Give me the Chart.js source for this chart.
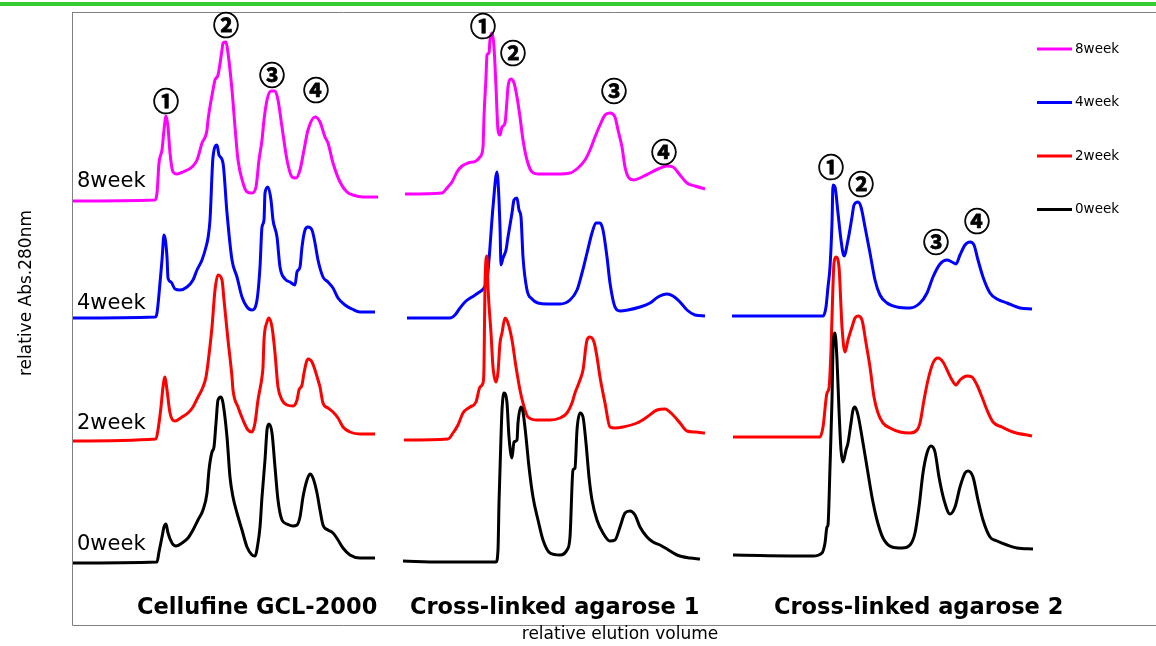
<!DOCTYPE html>
<html>
<head>
<meta charset="utf-8">
<script src="https://cdn.jsdelivr.net/npm/chart.js@4/dist/chart.umd.min.js"></script>
<style>
  html, body { margin: 0; padding: 0; background: #fff; }
  #wrap { width: 1156px; height: 646px; }
</style>
</head>
<body>
<div id="wrap"><canvas id="chart" width="1156" height="646"></canvas></div>
<script>
// elution profiles: [relative elution volume, relative Abs.280nm]
// Cellufine GCL-2000
const gcl8 = [[1,424],[83,425],[85,432],[87,462],[90,475],[92,495],[94,509],[96,498],[98,472],[101,453],[105,451],[111,453],[120,458],[125,465],[130,482],[135,495],[136,505],[141,535],[143,545],[146,550],[150,575],[151,582],[154,583],[156,572],[160,535],[163,498],[166,465],[171,442],[175,433],[180,432],[184,438],[187,465],[190,485],[192,505],[195,525],[199,534],[203,534],[206,525],[210,498],[215,465],[220,448],[224,447],[228,455],[232,475],[236,495],[243,508],[248,503],[253,488],[256,482],[261,462],[268,443],[275,433],[281,430],[291,428],[306,428]];
const gcl4 = [[1,307],[83,308],[85,312],[88,342],[90,365],[92,390],[95,368],[96,347],[99,343],[103,336],[108,335],[115,338],[121,345],[125,355],[130,365],[134,378],[136,387],[138,405],[141,468],[145,480],[147,470],[151,462],[155,412],[160,365],[165,348],[170,328],[175,318],[180,315],[185,325],[188,358],[190,398],[192,405],[193,432],[196,438],[199,425],[201,405],[205,388],[208,358],[213,346],[218,343],[223,340],[225,353],[228,358],[230,378],[233,395],[236,398],[240,395],[243,382],[246,365],[251,348],[256,343],[261,337],[266,327],[273,320],[280,316],[288,313],[303,313]];
const gcl2 = [[1,184],[84,186],[86,195],[89,218],[91,238],[93,248],[95,235],[98,212],[103,204],[110,208],[116,212],[121,218],[126,228],[131,238],[134,248],[136,262],[140,298],[143,335],[146,350],[150,345],[152,325],[156,285],[160,248],[161,235],[166,218],[171,205],[176,195],[180,193],[183,202],[186,225],[190,248],[191,258],[192,285],[195,303],[197,307],[200,298],[203,272],[205,248],[206,238],[210,225],[215,220],[221,219],[225,225],[227,235],[230,240],[232,252],[236,266],[240,263],[243,255],[246,245],[248,238],[251,222],[256,217],[261,213],[266,207],[271,198],[278,193],[288,191],[303,191]];
const gcl0 = [[1,62],[85,63],[87,73],[90,88],[92,98],[94,101],[96,92],[100,82],[104,79],[110,82],[116,87],[121,95],[126,105],[131,115],[135,132],[137,155],[140,173],[142,178],[144,202],[146,225],[149,228],[151,222],[155,188],[158,148],[161,128],[165,112],[170,95],[175,78],[180,70],[183,69],[186,82],[188,98],[190,128],[193,165],[195,195],[197,201],[200,192],[203,158],[206,125],[210,105],[215,101],[221,99],[225,100],[228,108],[231,128],[235,145],[238,151],[241,147],[245,132],[248,115],[251,100],[256,95],[261,92],[266,85],[271,77],[278,70],[288,67],[303,67]];

// Cross-linked agarose 1
const agr1w8 = [[333,431],[370,432],[375,437],[380,443],[385,453],[390,459],[396,462],[404,464],[408,468],[411,478],[412,508],[414,548],[415,570],[417,572],[418,585],[420,592],[422,578],[424,538],[426,495],[428,490],[430,498],[433,502],[435,525],[436,538],[439,546],[442,542],[445,528],[448,508],[451,485],[455,465],[460,453],[466,451],[485,451],[498,452],[506,457],[513,465],[518,475],[523,488],[528,500],[533,510],[538,512],[543,508],[546,495],[550,478],[553,458],[557,447],[562,445],[570,448],[578,452],[586,456],[595,459],[601,458],[608,450],[615,442],[623,439],[633,436]];
const agr1w4 = [[335,307],[378,307],[383,310],[388,317],[393,323],[400,328],[406,332],[412,337],[415,345],[417,365],[419,392],[421,418],[425,453],[427,425],[428,398],[429,360],[431,367],[434,375],[436,388],[440,412],[442,425],[445,427],[447,415],[449,408],[451,368],[455,335],[460,326],[466,322],[475,321],[488,321],[498,325],[505,335],[510,352],[515,372],[520,392],[524,402],[528,402],[531,395],[535,368],[538,342],[543,318],[548,314],[556,315],[568,318],[578,322],[586,328],[595,331],[601,329],[608,323],[615,315],[623,310],[633,309]];
const agr1w2 = [[332,185],[376,186],[381,192],[386,200],[391,212],[398,218],[404,223],[408,238],[411,242],[412,258],[413,342],[415,369],[416,338],[419,292],[421,258],[424,243],[426,253],[428,282],[430,292],[433,307],[436,302],[440,285],[444,258],[445,252],[448,235],[451,222],[456,208],[465,205],[478,205],[488,207],[495,212],[500,222],[503,232],[508,245],[511,255],[515,285],[518,288],[522,283],[525,268],[528,248],[533,222],[538,198],[543,197],[551,198],[565,202],[575,208],[585,215],[593,216],[601,210],[608,202],[615,194],[623,193],[633,192]];
const agr1w0 = [[331,64],[368,63],[401,63],[424,63],[426,75],[427,122],[429,188],[430,215],[432,232],[435,222],[437,188],[440,167],[442,183],[445,185],[446,202],[449,218],[451,213],[454,188],[457,158],[461,128],[466,105],[471,85],[478,72],[488,70],[495,75],[498,88],[501,155],[503,157],[505,195],[508,212],[511,208],[514,182],[517,148],[520,125],[525,105],[531,92],[538,84],[543,85],[548,98],[553,112],[558,114],[563,110],[568,98],[575,88],[581,83],[588,80],[595,76],[605,70],[618,67],[628,66]];

// Cross-linked agarose 2
const agr2w4 = [[660,309],[751,309],[754,318],[756,338],[758,358],[760,402],[761,440],[763,438],[766,412],[769,385],[772,369],[776,385],[780,408],[782,420],[786,423],[789,418],[793,398],[798,372],[803,345],[808,330],[815,322],[825,318],[838,317],[848,322],[855,332],[861,348],[868,361],[875,365],[880,363],[884,361],[888,370],[893,380],[898,383],[902,380],[906,365],[911,348],[918,332],[925,326],[935,322],[948,317],[960,316]];
const agr2w2 = [[661,188],[748,188],[751,198],[755,232],[757,237],[759,275],[760,308],[762,362],[764,368],[767,358],[769,318],[770,298],[773,273],[776,285],[780,298],[783,307],[786,309],[790,305],[794,282],[798,258],[802,228],[806,212],[811,202],[818,197],[828,193],[838,192],[845,195],[848,202],[852,225],[856,245],[861,262],[866,267],[871,263],[876,253],[880,245],[884,240],[888,245],[895,249],[900,248],[905,240],[910,228],[915,215],[921,203],[930,198],[941,193],[960,189]];
const agr2w0 = [[661,70],[741,69],[750,72],[753,82],[755,98],[756,100],[758,158],[760,225],[761,275],[763,292],[765,265],[767,215],[769,175],[771,163],[774,175],[776,182],[779,202],[781,215],[783,218],[786,210],[790,188],[795,158],[800,128],[805,105],[811,87],[820,78],[830,77],[838,80],[843,92],[847,118],[851,152],[855,172],[859,179],[863,173],[867,148],[872,125],[878,111],[883,118],[888,138],[893,152],[896,154],[901,148],[906,125],[911,105],[918,88],[925,84],[935,80],[945,77],[961,76]];

const weeks = ["8week", "4week", "2week", "0week"];
const weekColors = ["#ff00ff", "#0000ff", "#ff0000", "#000000"];
const columns = ["Cellufine GCL-2000", "Cross-linked agarose 1", "Cross-linked agarose 2"];
const circled = ["①", "②", "③", "④"];

const series = [
  { week: 0, data: gcl8 }, { week: 1, data: gcl4 }, { week: 2, data: gcl2 }, { week: 3, data: gcl0 },
  { week: 0, data: agr1w8 }, { week: 1, data: agr1w4 }, { week: 2, data: agr1w2 }, { week: 3, data: agr1w0 },
  { week: 1, data: agr2w4 }, { week: 2, data: agr2w2 }, { week: 3, data: agr2w0 },
];

// peak numbers: [column, peak, x, y] in data units
const peakMarks = [
  [0, 0, 94, 524], [0, 1, 154, 600], [0, 2, 200, 550], [0, 3, 244, 535],
  [1, 0, 411, 599], [1, 1, 441, 572], [1, 2, 542, 534], [1, 3, 592, 473],
  [2, 0, 759, 458], [2, 1, 789, 441], [2, 2, 864, 383], [2, 3, 905, 404],
];

const overlay = {
  id: "overlay",
  beforeDraw(chart) {
    const ctx = chart.ctx;
    const a = chart.chartArea;
    ctx.save();
    ctx.fillStyle = "#33cc33";
    ctx.fillRect(0, 2, chart.width, 4);
    ctx.strokeStyle = "#808080";
    ctx.lineWidth = 1;
    ctx.beginPath();
    ctx.moveTo(a.left + 0.5, a.top + 0.5);
    ctx.lineTo(a.right, a.top + 0.5);
    ctx.moveTo(a.left + 0.5, a.top);
    ctx.lineTo(a.left + 0.5, a.bottom + 0.5);
    ctx.lineTo(a.right, a.bottom + 0.5);
    ctx.stroke();
    ctx.restore();
  },
  afterDraw(chart) {
    const ctx = chart.ctx;
    const a = chart.chartArea;
    const xs = chart.scales.x;
    const ys = chart.scales.y;
    ctx.save();
    ctx.fillStyle = "#000";

    // axis titles
    ctx.font = '17px "DejaVu Sans"';
    ctx.textAlign = "center";
    ctx.textBaseline = "middle";
    ctx.fillText("relative elution volume", (a.left + a.right) / 2 + 6, 635);
    ctx.save();
    ctx.translate(27, 293);
    ctx.rotate(-Math.PI / 2);
    ctx.fillText("relative Abs.280nm", 0, 0);
    ctx.restore();

    // week labels on the left
    ctx.font = '21px "DejaVu Sans"';
    ctx.textAlign = "left";
    ctx.textBaseline = "alphabetic";
    const labelY = [187, 309, 429, 550];
    weeks.forEach((w, i) => ctx.fillText(w, a.left + 5, labelY[i]));

    // column titles
    ctx.font = 'bold 22.5px "DejaVu Sans"';
    const titleX = [137, 410, 774];
    columns.forEach((c, i) => ctx.fillText(c, titleX[i], 614));

    // peak numbers (lightly stroked so the circles come out heavy like the original)
    ctx.font = 'bold 26px "Noto Sans CJK JP"';
    ctx.textAlign = "center";
    ctx.textBaseline = "middle";
    ctx.strokeStyle = "#000";
    ctx.lineWidth = 0.8;
    peakMarks.forEach(([col, p, x, y]) => {
      const px = xs.getPixelForValue(x);
      const py = ys.getPixelForValue(y);
      ctx.fillText(circled[p], px, py);
      ctx.strokeText(circled[p], px, py);
    });

    // legend
    ctx.font = '13.5px "DejaVu Sans"';
    ctx.textAlign = "left";
    weeks.forEach((w, i) => {
      const y = 49 + i * 53.5;
      ctx.strokeStyle = weekColors[i];
      ctx.lineWidth = 3;
      ctx.beginPath();
      ctx.moveTo(1037, y);
      ctx.lineTo(1072, y);
      ctx.stroke();
      ctx.fillStyle = "#000";
      ctx.fillText(w, 1075, y);
    });
    ctx.restore();
  },
};

new Chart(document.getElementById("chart"), {
  type: "line",
  data: {
    datasets: series.map((s) => ({
      label: weeks[s.week],
      data: s.data,
      borderColor: weekColors[s.week],
      borderWidth: 3,
      pointRadius: 0,
      fill: false,
      cubicInterpolationMode: "monotone",
      order: 3 - s.week,
    })),
  },
  options: {
    responsive: false,
    animation: false,
    layout: { padding: { left: 72, top: 12, right: 0, bottom: 21 } },
    scales: {
      x: { type: "linear", min: 0, max: 1084, display: false },
      y: { type: "linear", min: 0, max: 613, display: false },
    },
    plugins: { legend: { display: false }, tooltip: { enabled: false } },
  },
  plugins: [overlay],
});
</script>
</body>
</html>
